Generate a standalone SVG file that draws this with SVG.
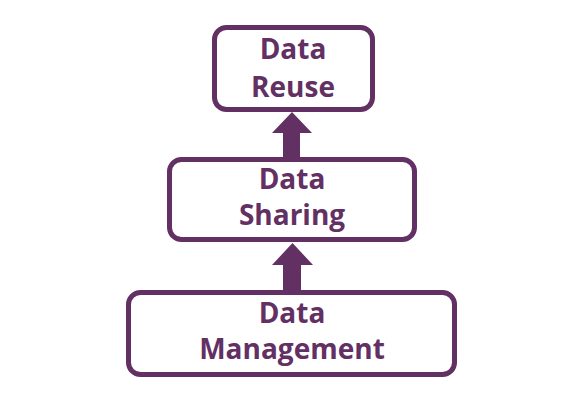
<svg xmlns="http://www.w3.org/2000/svg" width="573" height="403" viewBox="0 0 573 403">
<style>
.box{fill:#fff;stroke:#633064;stroke-width:5}
.t{font-family:"Open Sans","Noto Sans",sans-serif;font-weight:bold;font-size:28px;fill:#633064;text-anchor:middle}
.arr{fill:#633064}
</style>
<rect width="573" height="403" fill="#fff"/>
<g id="connectors">
<polygon class="arr" points="283,157 300,157 300,133 312,133 292,112 272,133 283,133"/>
<polygon class="arr" points="283,290 301,290 301,265 313,265 292.5,243 272,265 283,265"/>
</g>
<g id="reuse">
<rect class="box" x="214.5" y="27.5" width="158" height="82" rx="12"/>
<text class="t" x="293" y="59">Data</text>
<text class="t" x="293" y="97">Reuse</text>
</g>
<g id="sharing">
<rect class="box" x="169.5" y="159.5" width="245" height="80" rx="12"/>
<text class="t" x="292" y="189">Data</text>
<text class="t" x="292" y="225">Sharing</text>
</g>
<g id="management">
<rect class="box" x="128.5" y="292.5" width="326" height="82" rx="12"/>
<text class="t" x="292" y="323">Data</text>
<text class="t" x="292" y="359">Management</text>
</g>
</svg>
